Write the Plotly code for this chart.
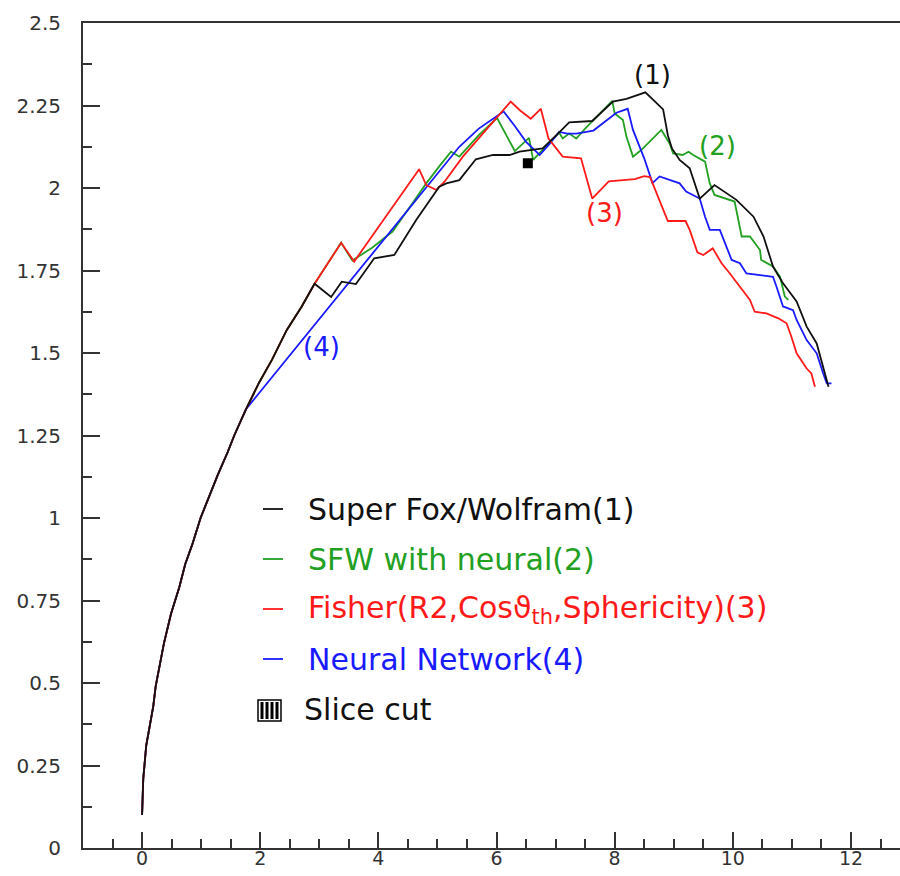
import plotly.graph_objects as go

# ---------------- data ----------------
sfw_x = [0, 0.02, 0.07, 0.12, 0.19, 0.23, 0.32, 0.37, 0.49, 0.63, 0.73, 0.85, 0.99, 1.14, 1.28, 1.45, 1.56, 1.76,
         1.98, 2.2, 2.45, 2.7, 2.92, 3.2, 3.38, 3.62, 3.93, 4.27, 4.64, 5.03, 5.15, 5.37, 5.65, 5.94, 6.22, 6.39,
         6.59, 6.78, 7.04, 7.23, 7.62, 7.97, 8.2, 8.52, 8.82, 8.9, 8.97, 9.1, 9.27, 9.44, 9.69, 10.06, 10.35,
         10.52, 10.68, 10.85, 11.08, 11.25, 11.42, 11.53, 11.62]
sfw_y = [0.1, 0.21, 0.31, 0.36, 0.43, 0.49, 0.57, 0.62, 0.71, 0.79, 0.86, 0.92, 1.0, 1.07, 1.13, 1.2, 1.25, 1.33,
         1.41, 1.48, 1.57, 1.64, 1.71, 1.67, 1.716, 1.709, 1.787, 1.797, 1.903, 2.004, 2.014, 2.024, 2.087, 2.1,
         2.1, 2.11, 2.115, 2.12, 2.165, 2.199, 2.203, 2.262, 2.27, 2.29, 2.238, 2.16, 2.12, 2.085, 2.06, 1.968,
         2.009, 1.964, 1.913, 1.853, 1.762, 1.711, 1.656, 1.58, 1.529, 1.459, 1.398]

sfwn_x = [0, 0.02, 0.07, 0.12, 0.19, 0.23, 0.32, 0.37, 0.49, 0.63, 0.73, 0.85, 0.99, 1.14, 1.28, 1.45, 1.56, 1.76,
          1.98, 2.2, 2.45, 2.7, 2.92, 3.37, 3.56, 3.9, 4.24, 4.6, 4.81, 5.05, 5.23, 5.37, 5.7, 6.01, 6.31, 6.55,
          6.62, 7.06, 7.12, 7.23, 7.35, 7.5, 7.96, 8.0, 8.14, 8.2, 8.31, 8.45, 8.79, 8.93, 8.99, 9.15, 9.25, 9.33,
          9.53, 9.61, 9.69, 10.03, 10.09, 10.15, 10.29, 10.38, 10.46, 10.48, 10.68, 10.8, 10.88, 10.94]
sfwn_y = [0.1, 0.21, 0.31, 0.36, 0.43, 0.49, 0.57, 0.62, 0.71, 0.79, 0.86, 0.92, 1.0, 1.07, 1.13, 1.2, 1.25, 1.33,
          1.41, 1.48, 1.57, 1.64, 1.71, 1.834, 1.78, 1.82, 1.868, 1.96, 2.014, 2.07, 2.11, 2.095, 2.16, 2.212,
          2.112, 2.152, 2.085, 2.168, 2.15, 2.165, 2.15, 2.18, 2.264, 2.226, 2.206, 2.155, 2.095, 2.115, 2.176,
          2.135, 2.105, 2.1, 2.11, 2.1, 2.08, 2.014, 1.979, 1.959, 1.903, 1.853, 1.853, 1.83, 1.812, 1.782, 1.762,
          1.731, 1.671, 1.661]

fisher_x = [0, 0.02, 0.07, 0.12, 0.19, 0.23, 0.32, 0.37, 0.49, 0.63, 0.73, 0.85, 0.99, 1.14, 1.28, 1.45, 1.56, 1.76,
            1.98, 2.2, 2.45, 2.7, 2.92, 3.37, 3.59, 4.69, 4.81, 4.98, 5.12, 5.43, 6.24, 6.4, 6.58, 6.75, 6.88, 7.12,
            7.43, 7.62, 7.9, 8.34, 8.5, 8.6, 8.76, 8.9, 9.2, 9.27, 9.4, 9.5, 9.66, 9.81, 9.95, 10.12, 10.29, 10.37,
            10.57, 10.77, 10.91, 10.99, 11.08, 11.25, 11.33, 11.39]
fisher_y = [0.1, 0.21, 0.31, 0.36, 0.43, 0.49, 0.57, 0.62, 0.71, 0.79, 0.86, 0.92, 1.0, 1.07, 1.13, 1.2, 1.25, 1.33,
            1.41, 1.48, 1.57, 1.64, 1.71, 1.834, 1.777, 2.057, 2.009, 1.994, 2.019, 2.095, 2.262, 2.235, 2.21, 2.24,
            2.15, 2.095, 2.09, 1.968, 2.02, 2.027, 2.036, 2.033, 1.964, 1.9, 1.9, 1.873, 1.805, 1.797, 1.817, 1.772,
            1.741, 1.701, 1.661, 1.625, 1.62, 1.605, 1.59, 1.55, 1.499, 1.453, 1.438, 1.398]

nn_x = [0, 0.02, 0.07, 0.12, 0.19, 0.23, 0.32, 0.37, 0.49, 0.63, 0.73, 0.85, 0.99, 1.14, 1.28, 1.45, 1.56, 1.76,
        5.37, 5.7, 6.12, 6.3, 6.5, 6.73, 6.88, 7.06, 7.2, 7.35, 7.64, 8.03, 8.22, 8.31, 8.5, 8.64, 8.76, 9.1, 9.21,
        9.44, 9.53, 9.61, 9.78, 9.98, 10.12, 10.23, 10.68, 10.74, 10.85, 11.02, 11.08, 11.25, 11.42, 11.53, 11.59,
        11.67]
nn_y = [0.1, 0.21, 0.31, 0.36, 0.43, 0.49, 0.57, 0.62, 0.71, 0.79, 0.86, 0.92, 1.0, 1.07, 1.13, 1.2, 1.25, 1.33,
        2.125, 2.18, 2.232, 2.19, 2.14, 2.1, 2.13, 2.17, 2.165, 2.165, 2.174, 2.228, 2.24, 2.176, 2.09, 2.015, 2.035,
        2.014, 1.989, 1.968, 1.913, 1.873, 1.873, 1.782, 1.772, 1.741, 1.731, 1.701, 1.641, 1.63, 1.6, 1.539,
        1.499, 1.438, 1.408, 1.408]

slice_x = [6.53]
slice_y = [2.075]

series_names = ["Super Fox/Wolfram(1)", "SFW with neural(2)",
                "Fisher(R2,Cos\u03d1<sub>th</sub>,Sphericity)(3)", "Neural Network(4)"]
slice_name = "Slice cut"
curve_tags = ["(1)", "(2)", "(3)", "(4)"]

x_tick_vals = [0, 2, 4, 6, 8, 10, 12]
x_tick_text = ["0", "2", "4", "6", "8", "10", "12"]
y_tick_vals = [0, 0.25, 0.5, 0.75, 1, 1.25, 1.5, 1.75, 2, 2.25, 2.5]
y_tick_text = ["0", "0.25", "0.5", "0.75", "1", "1.25", "1.5", "1.75", "2", "2.25", "2.5"]

# ---------------- styling ----------------
C_BLACK = "#111111"
C_GREEN = "#22a022"
C_RED = "#ff1a1a"
C_BLUE = "#1a1aff"
AX = "#333333"
FONT = "DejaVu Sans"

W, H = 900, 876
L, R, T, B = 83, 0, 23, 28
PW, PH = W - L - R, H - T - B


def px(xp):
    return (xp - L) / PW


def py(yp):
    return (H - B - yp) / PH


fig = go.Figure()
for xs, ys, col in [(sfwn_x, sfwn_y, C_GREEN), (nn_x, nn_y, C_BLUE),
                    (fisher_x, fisher_y, C_RED), (sfw_x, sfw_y, C_BLACK)]:
    fig.add_trace(go.Scatter(x=xs, y=ys, mode="lines", line=dict(color=col, width=1.8),
                             showlegend=False, hoverinfo="skip"))
fig.add_trace(go.Scatter(x=slice_x, y=slice_y, mode="markers",
                         marker=dict(symbol="square", size=10, color="#000000"),
                         showlegend=False, hoverinfo="skip"))

fig.update_layout(
    width=W, height=H, margin=dict(l=L, r=R, t=T, b=B, autoexpand=False),
    plot_bgcolor="white", paper_bgcolor="white", showlegend=False,
    font=dict(family=FONT, color=AX),
)
fig.update_xaxes(
    range=[-1, 12.83], automargin=False,
    tickvals=x_tick_vals, ticktext=x_tick_text,
    ticks="inside", ticklen=16, tickwidth=1.5, tickcolor=AX,
    minor=dict(dtick=0.5, tick0=0, ticks="inside", ticklen=9, tickwidth=1.5, tickcolor=AX),
    showline=True, linewidth=2, linecolor=AX, mirror=True,
    showgrid=False, zeroline=False,
    tickfont=dict(family=FONT, size=19, color=AX),
    ticklabelstandoff=-8,
)
fig.update_yaxes(
    range=[0, 2.5], automargin=False,
    tickvals=y_tick_vals, ticktext=y_tick_text,
    ticks="inside", ticklen=17, tickwidth=1.5, tickcolor=AX,
    minor=dict(dtick=0.125, tick0=0, ticks="inside", ticklen=9, tickwidth=1.5, tickcolor=AX),
    showline=True, linewidth=2, linecolor=AX,
    showgrid=False, zeroline=False,
    tickfont=dict(family=FONT, size=20, color=AX),
    ticklabelstandoff=16,
)

# ---------------- custom legend ----------------
row_y = [509, 559, 609, 659, 709]
leg_cols = [C_BLACK, C_GREEN, C_RED, C_BLUE]
shapes = []
annotations = []
for i, (name, col) in enumerate(zip(series_names, leg_cols)):
    shapes.append(dict(type="line", xref="paper", yref="paper",
                       x0=px(263), x1=px(283), y0=py(row_y[i]), y1=py(row_y[i]),
                       line=dict(color=col, width=1.8)))
    annotations.append(dict(text=name, xref="paper", yref="paper", x=px(306), y=py(row_y[i]),
                            xanchor="left", yanchor="middle", showarrow=False,
                            font=dict(family=FONT, size=30, color=col)))
# slice cut swatch: boxed vertical hatch
bx0, bx1, by0, by1 = 258, 281, 700, 721
shapes.append(dict(type="rect", xref="paper", yref="paper",
                   x0=px(bx0), x1=px(bx1), y0=py(by1), y1=py(by0),
                   line=dict(color="#000000", width=1.5), fillcolor="white"))
for k in range(4):
    xx = bx0 + 4 + k * 5
    shapes.append(dict(type="line", xref="paper", yref="paper",
                       x0=px(xx), x1=px(xx), y0=py(by1 - 2), y1=py(by0 + 2),
                       line=dict(color="#000000", width=3)))
annotations.append(dict(text=slice_name, xref="paper", yref="paper", x=px(302), y=py(row_y[4]),
                        xanchor="left", yanchor="middle", showarrow=False,
                        font=dict(family=FONT, size=30, color=C_BLACK)))

# curve tags
tag_pos = [(652, 75, C_BLACK), (717, 146, C_GREEN), (604, 213, C_RED), (321, 347, C_BLUE)]
for tag, (tx, ty, col) in zip(curve_tags, tag_pos):
    annotations.append(dict(text=tag, xref="paper", yref="paper", x=px(tx), y=py(ty),
                            xanchor="center", yanchor="middle", showarrow=False,
                            font=dict(family=FONT, size=26, color=col)))

fig.update_layout(shapes=shapes, annotations=annotations)
fig.write_html("out.html")
